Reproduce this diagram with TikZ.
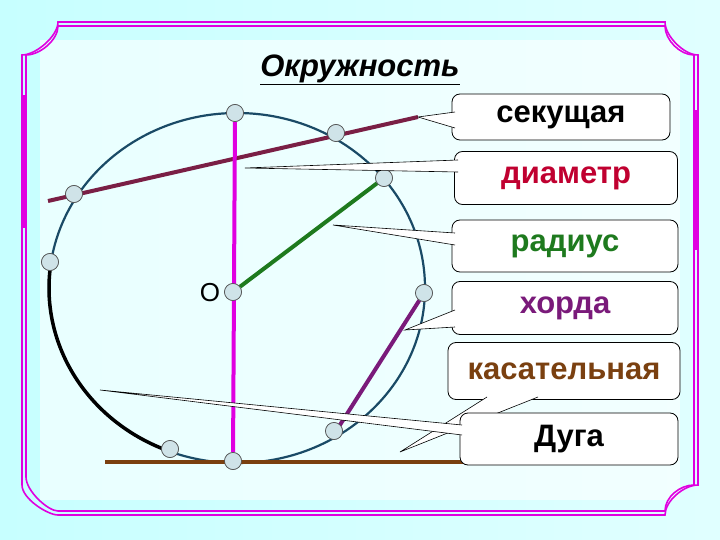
\documentclass[tikz,border=0pt]{standalone}
\usepackage{fontspec}
\setmainfont{Liberation Sans}
\usetikzlibrary{calc}
\definecolor{mag}{HTML}{E000E0}
\definecolor{sec}{HTML}{7A1F45}
\definecolor{diam}{HTML}{C00030}
\definecolor{rad}{HTML}{1E7A1E}
\definecolor{chordc}{HTML}{7A1A7A}
\definecolor{tan}{HTML}{7A4010}
\definecolor{circ}{HTML}{1A4A66}
\definecolor{pt}{HTML}{CFE3E8}
\tikzset{
  dot/.style={circle,draw=black!70,fill=pt,inner sep=0pt,minimum size=17pt,line width=0.6pt},
  callout/.style={draw=black,fill=white,rounded corners=8pt,line width=0.8pt,font=\fontsize{31}{34}\selectfont\bfseries,inner sep=0pt},
  frame/.style={draw=mag,line width=1.6pt}
}
\newcommand\mywedge[3]{\fill[white] #1 -- #2 -- #3 -- cycle; \draw[black,line width=0.6pt] #1 -- #2 -- #3;}
\begin{document}
\begin{tikzpicture}[x=1pt,y=-1pt]
\useasboundingbox (0,0) rectangle (720,540);
\shade[left color=cyan!22,right color=cyan!12] (0,0) rectangle (720,540);
\fill[white,opacity=0.6] (40,40) rectangle (680,500);
% frame (double line)
\foreach \o in {0,4}{
\draw[frame] ($(22,55)+(\o,0)$) -- ++(0,{430-2*\o}) .. controls +(0,14) and +(-10,0) .. ($(58,515)+(0,-\o)$) -- ($(665,515)+(0,-\o)$) .. controls +(0,-14) and +(-14,0) .. ($(698,485)+(-\o,0)$) -- ($(698,55)+(-\o,0)$) .. controls +(-14,0) and +(0,14) .. ($(665,22)+(0,\o)$) -- ($(58,22)+(0,\o)$) .. controls +(0,14) and +(14,0) .. cycle;}
\draw[mag,line width=5pt] (24,95) -- (24,228);
\draw[mag,line width=5pt] (696,110) -- (696,250);
% title
\node (title) at (360,70) {\fontsize{31}{34}\selectfont\bfseries\itshape\underline{Окружность}};
% circle
\draw[circ,line width=2.2pt] (237,288) ellipse [x radius=188, y radius=175];
\draw[black,line width=3.5pt] (237,288) ++(188:188 and 175) arc[start angle=188,end angle=111,x radius=188,y radius=175];
% points
\node[dot] (top) at (235,113) {};
\node[dot] (s2) at (336,133) {};
\node[dot] (r1) at (384,178) {};
\node[dot] (s1) at (74,194) {};
\node[dot] (a1) at (50,262) {};
\node[dot] (c1) at (424,293) {};
\node[dot] (c2) at (334,431) {};
\node[dot] (a2) at (170,449) {};
\node[dot] (bot) at (233,461) {};
\node[dot] (O) at (233,292) {};
\node[font=\fontsize{26}{30}\selectfont] (olab) at (210,293) {О};
% lines
\coordinate (sA) at (48,201); \coordinate (sB) at (418,117);
\draw[sec,line width=4pt] (sA) -- (sB);
\draw[mag,line width=4pt] (top) -- (bot);
\draw[rad,line width=4pt] (O) -- (r1);
\coordinate (cB) at (338,428);
\draw[chordc,line width=4pt] (c1) -- (cB);
\coordinate (tA) at (105,462); \coordinate (tB) at (470,462);
\draw[tan,line width=4pt] (tA) -- (tB);
\foreach \n in {top,s2,r1,s1,a1,c1,c2,a2,bot,O} \node[dot] at (\n) {};
\coordinate (pd) at (245,168); \coordinate (pr) at (333,225); \coordinate (ph) at (405,330);
\coordinate (pk) at (400,452); \coordinate (pa) at (100,390);
% callouts
\node[callout,minimum width=218pt,minimum height=46pt] (k1) at (561,117) {секущая};
\mywedge{(455,112)}{(sB)}{(455,128)}
\node[callout,minimum width=223pt,minimum height=53pt,text=diam] (k2) at (566,178) {диаметр};
\mywedge{(458,160)}{(pd)}{(458,172)}
\node[callout,minimum width=226pt,minimum height=52pt,text=rad] (k3) at (565,246) {радиус};
\mywedge{(455,233)}{(pr)}{(455,245)}
\node[callout,minimum width=226pt,minimum height=53pt,text=chordc] (k4) at (565,308) {хорда};
\mywedge{(455,310)}{(ph)}{(455,327)}
\node[callout,minimum width=232pt,minimum height=57pt,text=tan] (k5) at (564,371) {касательная};
\mywedge{(487,397)}{(pk)}{(538,397)}
\node[callout,minimum width=218pt,minimum height=52pt] (k6) at (569,439) {Дуга};
\mywedge{(462,425)}{(pa)}{(462,435)}
\end{tikzpicture}
\end{document}
